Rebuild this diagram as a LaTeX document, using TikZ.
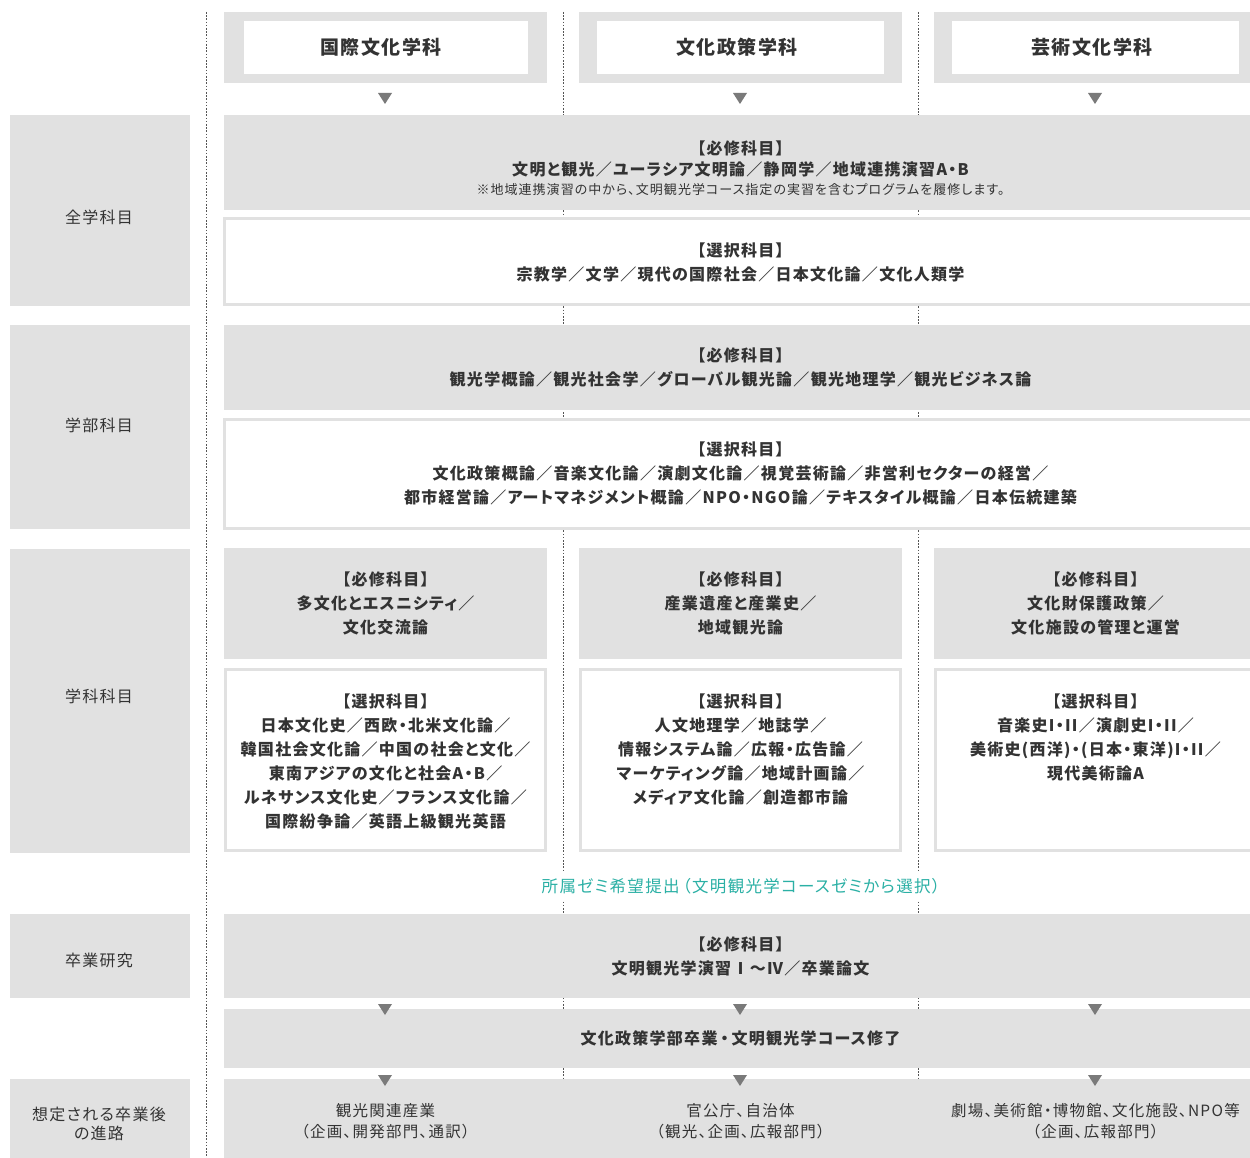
\documentclass[tikz,border=0pt]{standalone}
\usepackage{fontspec}
\setmainfont{Noto Sans CJK JP}[RawFeature=+palt, LetterSpace=8]
\usepackage{tikz}

\definecolor{boxgray}{HTML}{E1E1E1}
\definecolor{txtgray}{HTML}{333333}
\definecolor{trigray}{HTML}{7A7A7A}
\definecolor{linegray}{HTML}{555555}
\definecolor{zemiteal}{HTML}{2BB0A5}

\tikzset{
  graybox/.style={fill=boxgray, inner sep=0pt, outer sep=0pt},
  whitebox/.style={fill=white, draw=boxgray, line width=3pt, inner sep=0pt},
  course/.style={text=txtgray, align=center, inner sep=0pt, font=\fontsize{16}{24}\selectfont\bfseries},
  sidetext/.style={text=txtgray, align=center, inner sep=0pt, font=\fontsize{16}{19}\selectfont},
  head/.style={text=txtgray, font=\fontsize{19}{22}\selectfont\bfseries},
  guide/.style={draw=linegray, line width=0.8pt, dash pattern=on 1.6pt off 1.6pt},
}

\begin{document}
\begin{tikzpicture}[x=1pt, y=-1pt]
    \useasboundingbox (0,0) rectangle (1250,1158);

    % guide lines
    \draw[guide] (206,12) -- (206,1158);
    \draw[guide] (563,12) -- (563,1158);
    \draw[guide] (918,12) -- (918,1158);

    % department headers
    \node[graybox, minimum width=323pt, minimum height=71pt] (intlBg) at (385.5,47.5) {};
    \node[fill=white, minimum width=284pt, minimum height=53pt] (intlIn) at (intlBg) {};
    \node[head] (intl) at (381,47.5) {国際文化学科};
    \node[graybox, minimum width=323pt, minimum height=71pt] (policyBg) at (740.5,47.5) {};
    \node[fill=white, minimum width=287pt, minimum height=53pt] (policyIn) at (policyBg) {};
    \node[head] (policy) at (737,47.5) {文化政策学科};
    \node[graybox, minimum width=323pt, minimum height=71pt] (artsBg) at (1095.5,47.5) {};
    \node[fill=white, minimum width=287pt, minimum height=53pt] (artsIn) at (artsBg) {};
    \node[head] (arts) at (1092,47.5) {芸術文化学科};

    % left labels
    \node[graybox, minimum width=180pt, minimum height=191pt] (allLbl) at (100,210.5) {};
    \node[sidetext] (allTxt) at (99,217) {全学科目};
    \node[graybox, minimum width=180pt, minimum height=204pt] (facLbl) at (100,427) {};
    \node[sidetext] (facTxt) at (99,425) {学部科目};
    \node[graybox, minimum width=180pt, minimum height=304pt] (deptLbl) at (100,701) {};
    \node[sidetext] (deptTxt) at (99,696) {学科科目};
    \node[graybox, minimum width=180pt, minimum height=84pt] (thesisLbl) at (100,956) {};
    \node[sidetext] (thesisTxt) at (99,960) {卒業研究};
    \node[graybox, minimum width=180pt, minimum height=79pt] (careerLbl) at (100,1118.5) {};
    \node[sidetext] (careerTxt) at (99,1123.5) {想定される卒業後\\の進路};

    % all-university courses
    \node[graybox, minimum width=1033pt, minimum height=95pt] (allReq) at (740.5,162.5) {};
    \node[course, font=\fontsize{16}{21}\selectfont\bfseries] (allReqTxt) at (740.5,168.5) {【必修科目】\\文明と観光／ユーラシア文明論／静岡学／地域連携演習A・B\\[-2pt]
      {\mdseries\fontsize{13}{16}\selectfont ※地域連携演習の中から、文明観光学コース指定の実習を含むプログラムを履修します。}};
    \node[whitebox, course, minimum width=1033pt, minimum height=86pt] (allSel) at (740.5,262) {【選択科目】\\宗教学／文学／現代の国際社会／日本文化論／文化人類学};

    % faculty courses
    \node[graybox, course, minimum width=1033pt, minimum height=85pt] (facReq) at (740.5,367.5) {【必修科目】\\観光学概論／観光社会学／グローバル観光論／観光地理学／観光ビジネス論};
    \node[whitebox, course, minimum width=1033pt, minimum height=109pt] (facSel) at (740.5,473.5) {【選択科目】\\文化政策概論／音楽文化論／演劇文化論／視覚芸術論／非営利セクターの経営／\\都市経営論／アートマネジメント概論／NPO・NGO論／テキスタイル概論／日本伝統建築};

    % department courses
    \node[graybox, course, minimum width=323pt, minimum height=111pt] (intlReq) at (385.5,603.5) {【必修科目】\\多文化とエスニシティ／\\文化交流論};
    \node[graybox, course, minimum width=323pt, minimum height=111pt] (policyReq) at (740.5,603.5) {【必修科目】\\産業遺産と産業史／\\地域観光論};
    \node[graybox, course, minimum width=323pt, minimum height=111pt] (artsReq) at (1095.5,603.5) {【必修科目】\\文化財保護政策／\\文化施設の管理と運営};

    \node[whitebox, minimum width=320pt, minimum height=181pt] (intlSel) at (385.5,760) {};
    \node[whitebox, minimum width=320pt, minimum height=181pt] (policySel) at (740.5,760) {};
    \node[whitebox, minimum width=320pt, minimum height=181pt] (artsSel) at (1095.5,760) {};
    \node[course, anchor=north] (intlSelTxt) at (385.5,694) {【選択科目】\\日本文化史／西欧・北米文化論／\\韓国社会文化論／中国の社会と文化／\\東南アジアの文化と社会A・B／\\ルネサンス文化史／フランス文化論／\\国際紛争論／英語上級観光英語};
    \node[course, anchor=north] (policySelTxt) at (740.5,694) {【選択科目】\\人文地理学／地誌学／\\情報システム論／広報・広告論／\\マーケティング論／地域計画論／\\メディア文化論／創造都市論};
    \node[course, anchor=north] (artsSelTxt) at (1095.5,694) {【選択科目】\\音楽史I・II／演劇史I・II／\\美術史(西洋)・(日本・東洋)I・II／\\現代美術論A};

    % seminar choice
    \node[fill=white, text=zemiteal, inner xsep=2pt, inner ysep=6pt, font=\fontsize{16.5}{20}\selectfont] (zemi) at (741,886) {所属ゼミ希望提出\hspace{3pt}（文明観光学コースゼミから選択）};

    % graduation research
    \node[graybox, course, minimum width=1033pt, minimum height=84pt] (thesis) at (740.5,956) {【必修科目】\\文明観光学演習Ⅰ～Ⅳ／卒業論文};
    \node[graybox, course, minimum width=1033pt, minimum height=59pt] (grad) at (740.5,1038.5) {文化政策学部卒業\hspace{3pt}・\hspace{3pt}文明観光学コース修了};

    % careers
    \node[graybox, minimum width=1033pt, minimum height=81pt] (career) at (740.5,1119.5) {};
    \node[course, font=\fontsize{15.5}{21}\selectfont] (tourism) at (385.5,1121.5) {観光関連産業\\（企画、開発部門、通訳）};
    \node[course, font=\fontsize{15.5}{21}\selectfont] (govt) at (740.5,1121.5) {官公庁、自治体\\（観光、企画、広報部門）};
    \node[course, font=\fontsize{15.5}{21}\selectfont] (venue) at (1095.5,1121.5) {劇場、美術館・博物館、文化施設、NPO等\\（企画、広報部門）};

    % arrows
    \foreach \x in {385,740,1095} {
        \fill[trigray] (\x-7,93) -- (\x+7,93) -- (\x,104) -- cycle;
        \fill[trigray] (\x-7,1004) -- (\x+7,1004) -- (\x,1015) -- cycle;
        \fill[trigray] (\x-7,1075) -- (\x+7,1075) -- (\x,1086) -- cycle;
    }

\end{tikzpicture}
\end{document}
